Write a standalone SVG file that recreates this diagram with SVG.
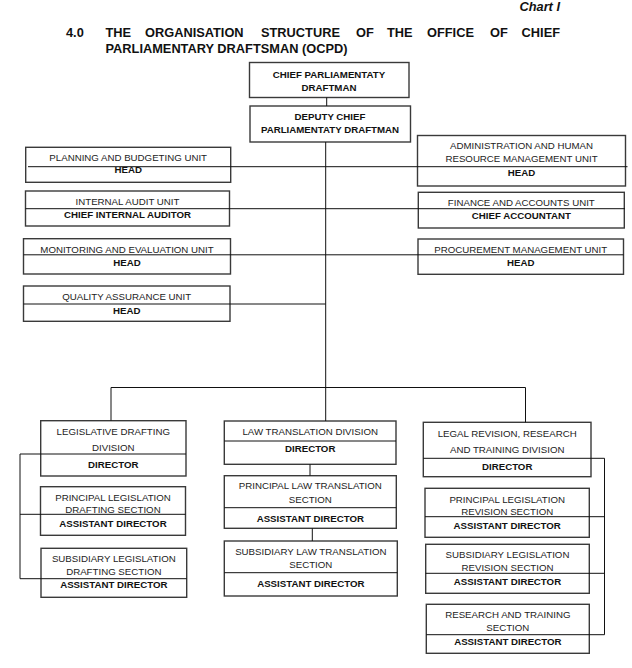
<svg xmlns="http://www.w3.org/2000/svg" width="632" height="668" viewBox="0 0 632 668">
<style>
.box{fill:#fff;stroke:#3a3a3a;stroke-width:1.4}
.ln{fill:none;stroke:#111;stroke-width:1}
.t{font-family:"Liberation Sans",Arial,sans-serif;font-size:9.7px;text-anchor:middle;fill:#222}
.b{font-weight:bold;fill:#111}
.h{font-family:"Liberation Sans",Arial,sans-serif;font-size:12.8px;font-weight:bold;fill:#111}
</style>
<rect width="632" height="668" fill="#fff"/>
<g id="title">
<text class="h" x="560" y="11" text-anchor="end" font-style="italic" font-size="11.5">Chart I</text>
<text class="h" x="66" y="37.3">4.0</text>
<text class="h" x="105.5" y="37.3">THE</text>
<text class="h" x="145" y="37.3">ORGANISATION</text>
<text class="h" x="261" y="37.3">STRUCTURE</text>
<text class="h" x="356" y="37.3">OF</text>
<text class="h" x="387" y="37.3">THE</text>
<text class="h" x="427" y="37.3">OFFICE</text>
<text class="h" x="490" y="37.3">OF</text>
<text class="h" x="560" y="37.3" text-anchor="end">CHIEF</text>
<text class="h" x="105.5" y="53.3">PARLIAMENTARY DRAFTSMAN (OCPD)</text>
</g>
<g id="chief">
<rect class="box" x="249.5" y="62.5" width="159.5" height="35"/>
<text class="t b" x="329" y="78.3">CHIEF PARLIAMENTATY</text>
<text class="t b" x="329" y="91">DRAFTMAN</text>
</g>
<g id="deputy">
<rect class="box" x="250" y="106" width="160.5" height="36"/>
<text class="t b" x="330" y="120.3">DEPUTY CHIEF</text>
<text class="t b" x="330" y="133.3">PARLIAMENTATY DRAFTMAN</text>
</g>
<g id="planning">
<rect class="box" x="25.7" y="147.3" width="205" height="35"/>
<text class="t" x="128.2" y="160.7">PLANNING AND BUDGETING UNIT</text>
<text class="t b" x="128.2" y="173.3">HEAD</text>
</g>
<g id="internal-audit">
<rect class="box" x="25.5" y="191" width="204" height="35"/>
<text class="t" x="127.5" y="205">INTERNAL AUDIT UNIT</text>
<text class="t b" x="127.5" y="218.3">CHIEF INTERNAL AUDITOR</text>
</g>
<g id="monitoring">
<rect class="box" x="23.5" y="238.7" width="207" height="35.3"/>
<text class="t" x="127" y="252.7">MONITORING AND EVALUATION UNIT</text>
<text class="t b" x="127" y="266">HEAD</text>
</g>
<g id="quality">
<rect class="box" x="23.5" y="286" width="206.5" height="35.3"/>
<text class="t" x="126.7" y="300">QUALITY ASSURANCE UNIT</text>
<text class="t b" x="126.7" y="314">HEAD</text>
</g>
<g id="admin">
<rect class="box" x="417.5" y="135.5" width="208" height="50.5"/>
<text class="t" x="521.5" y="149">ADMINISTRATION AND HUMAN</text>
<text class="t" x="521.5" y="162">RESOURCE MANAGEMENT UNIT</text>
<text class="t b" x="521.5" y="176">HEAD</text>
</g>
<g id="finance">
<rect class="box" x="418.3" y="192.3" width="206" height="35.7"/>
<text class="t" x="521.3" y="206">FINANCE AND ACCOUNTS UNIT</text>
<text class="t b" x="521.3" y="219.3">CHIEF ACCOUNTANT</text>
</g>
<g id="procurement">
<rect class="box" x="418" y="239" width="205.5" height="35.3"/>
<text class="t" x="520.7" y="253.3">PROCUREMENT MANAGEMENT UNIT</text>
<text class="t b" x="520.7" y="266">HEAD</text>
</g>
<g id="legislative-drafting">
<rect class="box" x="40.7" y="420.7" width="145.3" height="55.3"/>
<text class="t" x="113.3" y="434.7">LEGISLATIVE DRAFTING</text>
<text class="t" x="113.3" y="451">DIVISION</text>
<text class="t b" x="113.3" y="467.7">DIRECTOR</text>
</g>
<g id="principal-legislation-drafting">
<rect class="box" x="40.5" y="486.7" width="145" height="48.6"/>
<text class="t" x="113" y="500.7">PRINCIPAL LEGISLATION</text>
<text class="t" x="113" y="512.7">DRAFTING SECTION</text>
<text class="t b" x="113" y="526.7">ASSISTANT DIRECTOR</text>
</g>
<g id="subsidiary-legislation-drafting">
<rect class="box" x="41" y="548.3" width="145.7" height="49"/>
<text class="t" x="113.8" y="562.3">SUBSIDIARY LEGISLATION</text>
<text class="t" x="113.8" y="575">DRAFTING SECTION</text>
<text class="t b" x="113.8" y="588.3">ASSISTANT DIRECTOR</text>
</g>
<g id="law-translation">
<rect class="box" x="224.3" y="421" width="171.7" height="43.3"/>
<line class="ln" x1="224.3" y1="441" x2="396" y2="441"/>
<text class="t" x="310.2" y="435.3">LAW TRANSLATION DIVISION</text>
<text class="t b" x="310.2" y="452">DIRECTOR</text>
</g>
<g id="principal-law-translation">
<rect class="box" x="224.3" y="475.7" width="172" height="52.6"/>
<line class="ln" x1="224.3" y1="507.7" x2="396.3" y2="507.7"/>
<text class="t" x="310.3" y="489.3">PRINCIPAL LAW TRANSLATION</text>
<text class="t" x="310.3" y="502.7">SECTION</text>
<text class="t b" x="310.3" y="522.3">ASSISTANT DIRECTOR</text>
</g>
<g id="subsidiary-law-translation">
<rect class="box" x="224.3" y="541" width="173" height="55"/>
<line class="ln" x1="224.3" y1="572.7" x2="397.3" y2="572.7"/>
<text class="t" x="310.8" y="555.3">SUBSIDIARY LAW TRANSLATION</text>
<text class="t" x="310.8" y="568">SECTION</text>
<text class="t b" x="310.8" y="587.3">ASSISTANT DIRECTOR</text>
</g>
<g id="legal-revision">
<rect class="box" x="423.3" y="422.3" width="167.7" height="54.4"/>
<text class="t" x="507.2" y="436.7">LEGAL REVISION, RESEARCH</text>
<text class="t" x="507.2" y="453.3">AND TRAINING DIVISION</text>
<text class="t b" x="507.2" y="470">DIRECTOR</text>
</g>
<g id="principal-legislation-revision">
<rect class="box" x="425" y="488.3" width="164.3" height="49"/>
<text class="t" x="507.2" y="502.7">PRINCIPAL LEGISLATION</text>
<text class="t" x="507.2" y="514.7">REVISION SECTION</text>
<text class="t b" x="507.2" y="528.7">ASSISTANT DIRECTOR</text>
</g>
<g id="subsidiary-legislation-revision">
<rect class="box" x="425.7" y="544.3" width="163.6" height="49"/>
<text class="t" x="507.5" y="558">SUBSIDIARY LEGISLATION</text>
<text class="t" x="507.5" y="570.7">REVISION SECTION</text>
<text class="t b" x="507.5" y="584.7">ASSISTANT DIRECTOR</text>
</g>
<g id="research-training">
<rect class="box" x="426.3" y="604.3" width="163" height="49"/>
<text class="t" x="507.8" y="618">RESEARCH AND TRAINING</text>
<text class="t" x="507.8" y="631.3">SECTION</text>
<text class="t b" x="507.8" y="644.7">ASSISTANT DIRECTOR</text>
</g>
<g id="connectors">
<line class="ln" x1="326.7" y1="97.5" x2="326.7" y2="106"/>
<line class="ln" x1="325.7" y1="142" x2="325.7" y2="421"/>
<line class="ln" x1="28" y1="166.7" x2="627.5" y2="166.7"/>
<line class="ln" x1="25.5" y1="208.7" x2="625" y2="208.7"/>
<line class="ln" x1="23.5" y1="254.8" x2="623.5" y2="254.8"/>
<line class="ln" x1="23.5" y1="304" x2="325.7" y2="304"/>
<polyline class="ln" points="111,420.7 111,387.5 525.5,387.5 525.5,422.3"/>
<line class="ln" x1="310" y1="464.3" x2="310" y2="475.7"/>
<line class="ln" x1="312.3" y1="528.3" x2="312.3" y2="541"/>
<polyline class="ln" points="186,454 20,454 20,578.7 186.7,578.7"/>
<line class="ln" x1="20" y1="514.3" x2="185.5" y2="514.3"/>
<polyline class="ln" points="423.3,458.3 604.5,458.3 604.5,634.7 426.3,634.7"/>
<line class="ln" x1="425" y1="516.7" x2="604.5" y2="516.7"/>
<line class="ln" x1="425.7" y1="573.3" x2="604.5" y2="573.3"/>
</g>
</svg>
